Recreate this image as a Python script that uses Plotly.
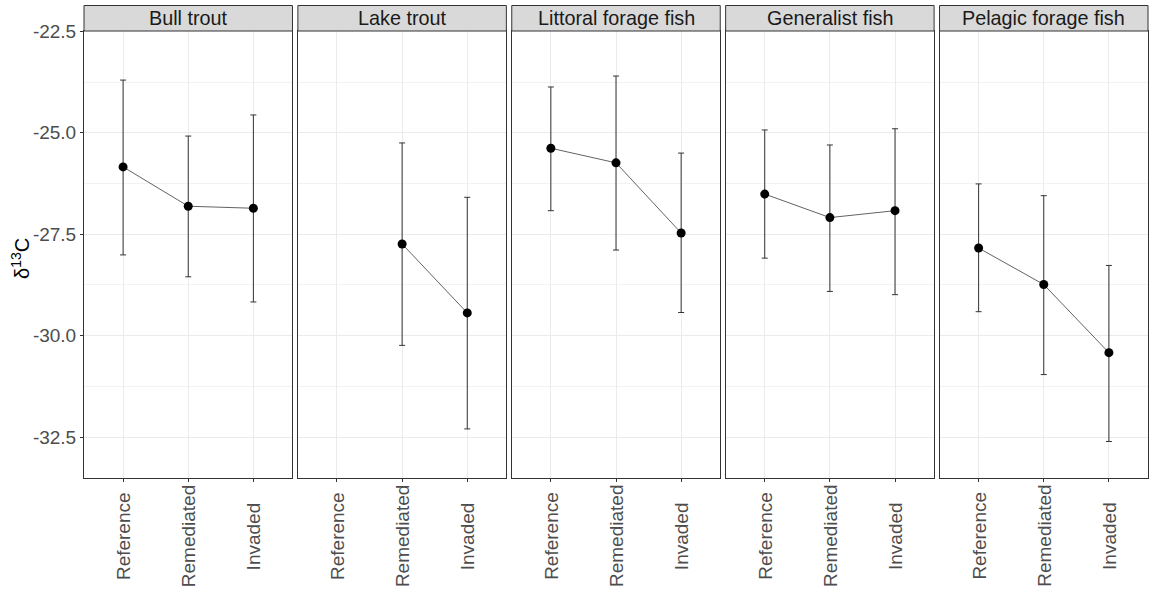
import plotly.graph_objects as go
from plotly.subplots import make_subplots

# Fish groups (facets) and site types (x categories)
groups = ["Bull trout", "Lake trout", "Littoral forage fish", "Generalist fish", "Pelagic forage fish"]
sites = ["Reference", "Remediated", "Invaded"]

# Mean d13C per group and site (None = not sampled)
mean_d13c = [
    [-25.84, -26.81, -26.86],
    [None, -27.74, -29.44],
    [-25.38, -25.74, -27.47],
    [-26.51, -27.09, -26.92],
    [-27.84, -28.74, -30.42],
]
# Upper and lower ends of the error bars
upper_d13c = [
    [-23.70, -25.08, -24.56],
    [None, -25.25, -26.59],
    [-23.87, -23.60, -25.50],
    [-24.93, -25.30, -24.90],
    [-26.26, -26.55, -28.27],
]
lower_d13c = [
    [-28.01, -28.55, -29.17],
    [None, -30.24, -32.30],
    [-26.92, -27.89, -29.43],
    [-28.09, -28.91, -28.99],
    [-29.41, -30.96, -32.61],
]
y_ticks = [-22.5, -25.0, -27.5, -30.0, -32.5]
y_tick_labels = ["-22.5", "-25.0", "-27.5", "-30.0", "-32.5"]

FONT = "Liberation Sans, Arial, sans-serif"
PLOT_W = 1064
PLOT_H = 447
GAP = 5.4
LABEL_MID_PX = 58  # distance below the panels of the centred site labels

fig = make_subplots(rows=1, cols=5, shared_yaxes=True,
                    horizontal_spacing=GAP / PLOT_W)

for i, g in enumerate(groups):
    m = mean_d13c[i]
    up = [None if v is None else u - v for u, v in zip(upper_d13c[i], m)]
    lo = [None if v is None else v - l for l, v in zip(lower_d13c[i], m)]
    fig.add_trace(
        go.Scatter(
            x=sites, y=m, mode="lines+markers",
            line=dict(color="#3a3a3a", width=0.8),
            marker=dict(color="black", size=9),
            error_y=dict(type="data", symmetric=False, array=up, arrayminus=lo,
                         color="#333333", thickness=1, width=3),
            showlegend=False, hoverinfo="skip",
        ),
        row=1, col=i + 1,
    )

    n = "" if i == 0 else str(i + 1)
    strip_h = 25.5 / PLOT_H
    fig.add_shape(type="rect", xref=f"x{n} domain", yref=f"y{n} domain",
                  x0=0, x1=1, y0=1, y1=1 + strip_h,
                  fillcolor="#D9D9D9", line=dict(color="#333333", width=1))
    fig.add_annotation(xref=f"x{n} domain", yref=f"y{n} domain",
                       x=0.5, y=1 + strip_h / 2, text=g, showarrow=False,
                       xanchor="center", yanchor="middle",
                       font=dict(family=FONT, size=19.8, color="#1A1A1A"))

    # site labels, rotated and centred under each category
    for s in sites:
        fig.add_annotation(xref=f"x{n}", yref="paper", x=s,
                           y=-LABEL_MID_PX / PLOT_H, text=s, textangle=-90,
                           showarrow=False, xanchor="center", yanchor="middle",
                           font=dict(family=FONT, size=19, color="#4D4D4D"))

fig.update_xaxes(
    type="category", categoryorder="array", categoryarray=sites,
    range=[-0.6, 2.6], showgrid=True, gridcolor="#EBEBEB", gridwidth=1,
    showline=True, mirror=True, linecolor="#333333", linewidth=1,
    ticks="outside", ticklen=3, tickcolor="#333333", showticklabels=False,
    zeroline=False,
)
fig.update_yaxes(
    range=[-33.51, -22.49], tickvals=y_ticks, ticktext=y_tick_labels,
    showgrid=True, gridcolor="#EBEBEB", gridwidth=1,
    minor=dict(tick0=-23.75, dtick=2.5, showgrid=True, gridcolor="#F2F2F2",
               gridwidth=1, ticks=""),
    showline=True, mirror=True, linecolor="#333333", linewidth=1,
    zeroline=False,
)
fig.update_yaxes(ticks="outside", ticklen=3, tickcolor="#333333",
                 tickfont=dict(family=FONT, size=19, color="#4D4D4D"),
                 row=1, col=1)
for c in range(2, 6):
    fig.update_yaxes(ticks="", showticklabels=False, row=1, col=c)

fig.add_annotation(xref="paper", yref="paper", x=(21 - 84) / PLOT_W, y=0.49,
                   text="δ<sup>13</sup>C", textangle=-90, showarrow=False,
                   xanchor="center", yanchor="middle",
                   font=dict(family=FONT, size=20, color="black"))

fig.update_layout(
    width=1150, height=592,
    margin=dict(l=84, r=2, t=31, b=114),
    plot_bgcolor="white", paper_bgcolor="white",
    showlegend=False,
    font=dict(family=FONT),
)

fig.write_html("out.html")
